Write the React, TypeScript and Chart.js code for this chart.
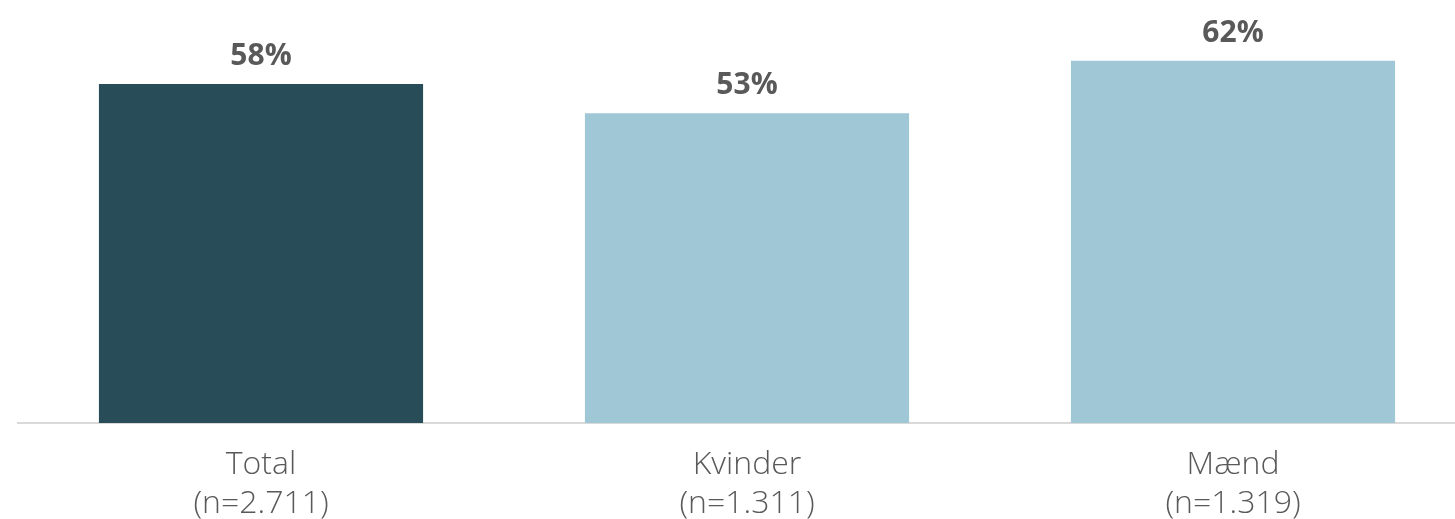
import React, { useEffect, useRef } from "react";
import { Chart, registerables } from "chart.js";

Chart.register(...registerables);

const categories: string[][] = [
  ["Total", "(n=2.711)"],
  ["Kvinder", "(n=1.311)"],
  ["Mænd", "(n=1.319)"],
];
const values: number[] = [58, 53, 62];
const barColors: string[] = ["#294C59", "#A0C7D5", "#A0C7D5"];
const yMax = 70;

const valueLabelPlugin = {
  id: "valueLabels",
  afterDatasetsDraw(chart: any) {
    const ctx = chart.ctx;
    const meta = chart.getDatasetMeta(0);
    ctx.save();
    ctx.font = "bold 30px 'Open Sans'";
    ctx.fillStyle = "#595959";
    ctx.textAlign = "center";
    ctx.textBaseline = "alphabetic";
    meta.data.forEach((bar: any, i: number) => {
      ctx.fillText(values[i] + "%", bar.x, bar.y - 19);
    });
    ctx.restore();
  },
};

export default function App() {
  const ref = useRef<HTMLCanvasElement | null>(null);
  useEffect(() => {
    document.documentElement.style.overflow = "hidden";
    document.body.style.overflow = "hidden";
    const chart = new Chart(ref.current!, {
      type: "bar",
      data: {
        labels: categories,
        datasets: [
          {
            data: values,
            backgroundColor: barColors,
            categoryPercentage: 1,
            barPercentage: 0.667,
          },
        ],
      },
      options: {
        animation: false,
        responsive: false,
        maintainAspectRatio: false,
        layout: { padding: { left: 18, right: 0, top: 14, bottom: 0 } },
        plugins: {
          legend: { display: false },
          tooltip: { enabled: false },
        },
        scales: {
          x: {
            grid: { display: false, drawTicks: false },
            border: { display: true, color: "#D9D9D9", width: 2 },
            ticks: {
              color: "#595959",
              padding: 22,
              font: { family: "'Open Sans'", size: 32, weight: "300", lineHeight: 1.22 },
            },
          },
          y: {
            display: false,
            min: 0,
            max: yMax,
          },
        },
      },
      plugins: [valueLabelPlugin],
    });
    return () => chart.destroy();
  }, []);
  return (
    <div style={{ position: "fixed", left: 0, top: 0, width: 1476, height: 519, overflow: "hidden" }}>
      <canvas ref={ref} width={1476} height={545} style={{ width: 1476, height: 545, display: "block" }} />
    </div>
  );
}
